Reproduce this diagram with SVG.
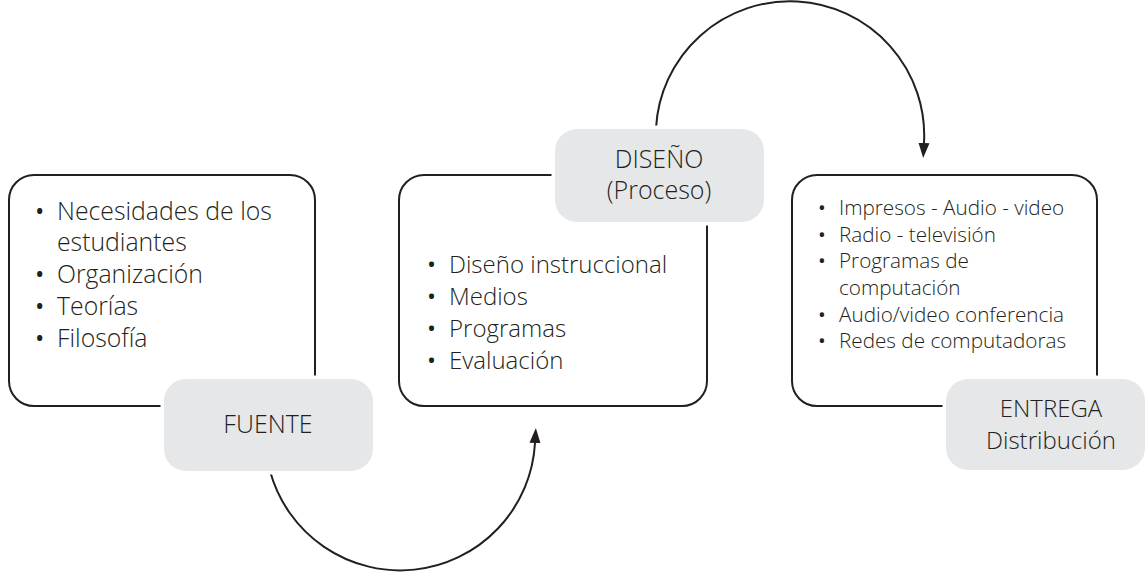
<svg xmlns="http://www.w3.org/2000/svg" width="1146" height="576" viewBox="0 0 1146 576">
<style>
.box{fill:#fff;stroke:#231f20;stroke-width:2}
.tag{fill:#e6e7e8;stroke:#fff;stroke-width:7;paint-order:stroke}
.t{font-family:"Open Sans","Liberation Sans",sans-serif;font-weight:300;fill:#231f20}
.b{font-weight:400}
.l{font-size:24.8px}
.m{font-size:24px}
.s{font-size:20.7px}
.c{text-anchor:middle;font-size:25px}
.e{font-size:24px}
.con{fill:none;stroke:#231f20;stroke-width:2}
</style>
<defs>
<marker id="ah" markerUnits="userSpaceOnUse" markerWidth="16" markerHeight="14" refX="0" refY="6" orient="auto" viewBox="0 0 16 12">
<path d="M0,0.5 L15,6 L0,11.5 z" fill="#231f20"/>
</marker>
</defs>
<rect width="1146" height="576" fill="#fff"/>
<g id="connectors">
<path class="con" d="M270,471 A135,135 0 0 0 535,443" marker-end="url(#ah)"/>
<path class="con" d="M656,128 A134,134 0 0 1 924,143" marker-end="url(#ah)"/>
</g>
<g id="fuente-box">
<rect class="box" x="9" y="175" width="306" height="231" rx="25"/>
<text class="t l b" x="35" y="220">•</text><text class="t l" x="57" y="220">Necesidades de los</text>
<text class="t l" x="57" y="251">estudiantes</text>
<text class="t l b" x="35" y="283">•</text><text class="t l" x="57" y="283">Organización</text>
<text class="t l b" x="35" y="315">•</text><text class="t l" x="57" y="315">Teorías</text>
<text class="t l b" x="35" y="347">•</text><text class="t l" x="57" y="347">Filosofía</text>
</g>
<g id="fuente">
<rect class="tag" x="164" y="379" width="209" height="92" rx="22"/>
<text class="t c" x="268" y="433">FUENTE</text>
</g>
<g id="diseno-box">
<rect class="box" x="399" y="175" width="308" height="231" rx="25"/>
<text class="t m b" x="427" y="273">•</text><text class="t m" x="449" y="273">Diseño instruccional</text>
<text class="t m b" x="427" y="305">•</text><text class="t m" x="449" y="305">Medios</text>
<text class="t m b" x="427" y="337">•</text><text class="t m" x="449" y="337">Programas</text>
<text class="t m b" x="427" y="369">•</text><text class="t m" x="449" y="369">Evaluación</text>
</g>
<g id="diseno">
<rect class="tag" x="555" y="129" width="209" height="93" rx="22"/>
<text class="t c" x="659" y="168">DISEÑO</text>
<text class="t c" x="659" y="199">(Proceso)</text>
</g>
<g id="entrega-box">
<rect class="box" x="792" y="175" width="305" height="231" rx="25"/>
<text class="t s b" x="818" y="215">•</text><text class="t s" x="839" y="215">Impresos - Audio - video</text>
<text class="t s b" x="818" y="242">•</text><text class="t s" x="839" y="242">Radio - televisión</text>
<text class="t s b" x="818" y="268">•</text><text class="t s" x="839" y="268">Programas de</text>
<text class="t s" x="839" y="295">computación</text>
<text class="t s b" x="818" y="322">•</text><text class="t s" x="839" y="322">Audio/video conferencia</text>
<text class="t s b" x="818" y="348">•</text><text class="t s" x="839" y="348">Redes de computadoras</text>
</g>
<g id="entrega">
<rect class="tag" x="946" y="379" width="199" height="91" rx="22"/>
<text class="t c e" x="1051" y="417">ENTREGA</text>
<text class="t c e" x="1051" y="449">Distribución</text>
</g>
</svg>
